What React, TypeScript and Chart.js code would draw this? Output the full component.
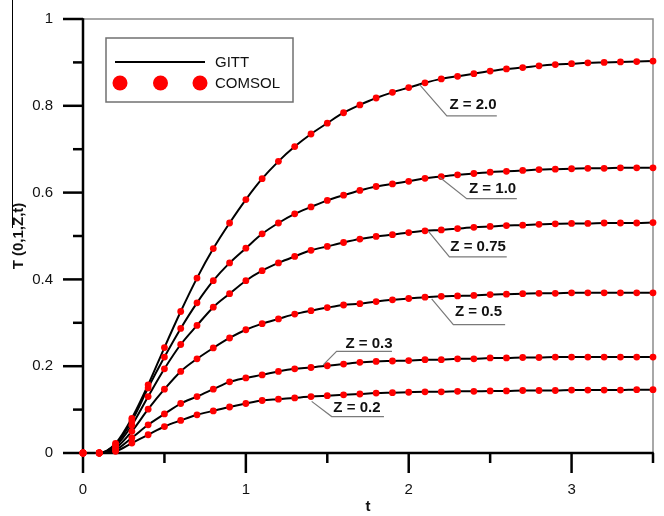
import React, { useEffect, useRef } from 'react';
import { Chart, registerables } from 'chart.js';

Chart.register(...registerables);

// ---------- data ----------
const tValues = [
  0, 0.1, 0.2, 0.3, 0.4, 0.5, 0.6, 0.7, 0.8, 0.9,
  1.0, 1.1, 1.2, 1.3, 1.4, 1.5, 1.6, 1.7, 1.8, 1.9,
  2.0, 2.1, 2.2, 2.3, 2.4, 2.5, 2.6, 2.7, 2.8, 2.9,
  3.0, 3.1, 3.2, 3.3, 3.4, 3.5,
];

const z20 = [
  0, 0, 0.022, 0.080, 0.157, 0.243, 0.326, 0.403, 0.471, 0.530,
  0.584, 0.632, 0.672, 0.706, 0.735, 0.760, 0.784, 0.802, 0.818, 0.831,
  0.842, 0.853, 0.862, 0.868, 0.874, 0.880, 0.885, 0.888, 0.892, 0.895,
  0.897, 0.899, 0.900, 0.901, 0.902, 0.903,
];
const z10 = [
  0, 0, 0.020, 0.074, 0.150, 0.221, 0.287, 0.346, 0.397, 0.438,
  0.472, 0.505, 0.530, 0.551, 0.567, 0.582, 0.594, 0.605, 0.614, 0.620,
  0.626, 0.633, 0.637, 0.641, 0.644, 0.647, 0.649, 0.651, 0.653, 0.654,
  0.655, 0.656, 0.656, 0.657, 0.657, 0.657,
];
const z075 = [
  0, 0, 0.016, 0.064, 0.130, 0.194, 0.250, 0.294, 0.336, 0.367,
  0.397, 0.420, 0.438, 0.453, 0.467, 0.476, 0.485, 0.493, 0.499, 0.503,
  0.508, 0.512, 0.514, 0.517, 0.520, 0.522, 0.524, 0.525, 0.527, 0.528,
  0.529, 0.529, 0.530, 0.530, 0.530, 0.531,
];
const z05 = [
  0, 0, 0.011, 0.050, 0.101, 0.147, 0.188, 0.217, 0.242, 0.265,
  0.284, 0.298, 0.309, 0.320, 0.328, 0.335, 0.341, 0.344, 0.349, 0.353,
  0.356, 0.359, 0.361, 0.362, 0.363, 0.365, 0.366, 0.367, 0.368, 0.368,
  0.369, 0.369, 0.369, 0.369, 0.369, 0.369,
];
const z03 = [
  0, 0, 0.007, 0.035, 0.065, 0.090, 0.114, 0.130, 0.147, 0.164,
  0.173, 0.180, 0.188, 0.194, 0.197, 0.201, 0.205, 0.209, 0.211, 0.212,
  0.213, 0.215, 0.215, 0.217, 0.217, 0.219, 0.219, 0.220, 0.220, 0.221,
  0.221, 0.221, 0.221, 0.221, 0.221, 0.221,
];
const z02 = [
  0, 0, 0.004, 0.023, 0.042, 0.061, 0.075, 0.088, 0.097, 0.106,
  0.114, 0.121, 0.124, 0.127, 0.130, 0.132, 0.134, 0.136, 0.138, 0.139,
  0.140, 0.141, 0.141, 0.142, 0.142, 0.143, 0.143, 0.144, 0.144, 0.144,
  0.145, 0.145, 0.145, 0.145, 0.146, 0.146,
];

const seriesValues = [z20, z10, z075, z05, z03, z02];
const seriesLabels = ['Z = 2.0', 'Z = 1.0', 'Z = 0.75', 'Z = 0.5', 'Z = 0.3', 'Z = 0.2'];
const legendLabels = ['GITT', 'COMSOL'];

const xTickValues = [0, 1, 2, 3];
const xTickLabels = ['0', '1', '2', '3'];
const xMinorTicks = [0.5, 1.5, 2.5, 3.5];
const yTickValues = [0, 0.2, 0.4, 0.6, 0.8, 1];
const yTickLabels = ['0', '0.2', '0.4', '0.6', '0.8', '1'];
const yMinorTicks = [0.1, 0.3, 0.5, 0.7, 0.9];

const xTitle = 't';
const yTitle = 'T (0,1,Z,t)';

// ---------- layout of call-out labels (data coordinates) ----------
// [start t, start v, elbow t, elbow v, underline end t, text centre t, text centre v]
const calloutLayout = [
  [2.067, 0.849, 2.234, 0.777, 2.541, 2.395, 0.803],
  [2.188, 0.636, 2.356, 0.586, 2.664, 2.515, 0.608],
  [2.120, 0.511, 2.250, 0.452, 2.602, 2.426, 0.476],
  [2.141, 0.355, 2.274, 0.296, 2.592, 2.429, 0.325],
  [1.475, 0.203, 1.557, 0.234, 1.897, 1.756, 0.252],
  [1.404, 0.119, 1.527, 0.084, 1.848, 1.682, 0.104],
];

const FONT = '"Liberation Sans", Arial, Helvetica, sans-serif';
const RED = '#ff0000';

const framePlugin = {
  id: 'frameTicks',
  beforeDatasetsDraw(chart: any) {
    const { ctx, chartArea: a, scales } = chart;
    const x = scales.x;
    const y = scales.y;
    ctx.save();
    ctx.lineCap = 'butt';
    // grey top & right frame
    ctx.strokeStyle = '#8c8c8c';
    ctx.lineWidth = 1.5;
    ctx.beginPath();
    ctx.moveTo(a.left, a.top);
    ctx.lineTo(a.right, a.top);
    ctx.lineTo(a.right, a.bottom);
    ctx.stroke();
    // black axes
    ctx.strokeStyle = '#000';
    ctx.lineWidth = 2.5;
    ctx.beginPath();
    ctx.moveTo(a.left, a.top - 0.75);
    ctx.lineTo(a.left, a.bottom);
    ctx.lineTo(a.right + 0.75, a.bottom);
    ctx.stroke();
    const seg = (x1: number, y1: number, x2: number, y2: number) => {
      ctx.beginPath();
      ctx.moveTo(x1, y1);
      ctx.lineTo(x2, y2);
      ctx.stroke();
    };
    xTickValues.forEach((v) => {
      const px = x.getPixelForValue(v);
      seg(px, a.bottom, px, a.bottom + 20);
    });
    xMinorTicks.forEach((v) => {
      const px = x.getPixelForValue(v);
      seg(px, a.bottom, px, a.bottom + 10);
    });
    yTickValues.forEach((v) => {
      const py = y.getPixelForValue(v);
      seg(a.left - 20, py, a.left, py);
    });
    yMinorTicks.forEach((v) => {
      const py = y.getPixelForValue(v);
      seg(a.left - 10, py, a.left, py);
    });
    ctx.restore();
  },
  afterDraw(chart: any) {
    const { ctx, scales } = chart;
    const x = scales.x;
    const y = scales.y;
    ctx.save();

    // overline of the y title
    ctx.strokeStyle = '#000';
    ctx.lineWidth = 1;
    ctx.beginPath();
    ctx.moveTo(12.5, 0);
    ctx.lineTo(12.5, 228);
    ctx.stroke();

    // call-outs
    ctx.font = `bold 15px ${FONT}`;
    ctx.textAlign = 'center';
    ctx.textBaseline = 'middle';
    calloutLayout.forEach((c, i) => {
      const sx = x.getPixelForValue(c[0]);
      const sy = y.getPixelForValue(c[1]);
      const ex = x.getPixelForValue(c[2]);
      const ey = y.getPixelForValue(c[3]);
      const ux = x.getPixelForValue(c[4]);
      ctx.strokeStyle = '#7a7a7a';
      ctx.lineWidth = 1.2;
      ctx.beginPath();
      ctx.moveTo(sx, sy);
      ctx.lineTo(ex, ey);
      ctx.lineTo(ux, ey);
      ctx.stroke();
      ctx.fillStyle = '#111';
      ctx.fillText(seriesLabels[i], x.getPixelForValue(c[5]), y.getPixelForValue(c[6]));
    });

    // legend box
    const bx = 106, by = 38, bw = 187, bh = 64;
    ctx.strokeStyle = '#707070';
    ctx.lineWidth = 1.5;
    ctx.strokeRect(bx, by, bw, bh);
    ctx.strokeStyle = '#000';
    ctx.lineWidth = 2;
    ctx.beginPath();
    ctx.moveTo(115, 62);
    ctx.lineTo(205, 62);
    ctx.stroke();
    ctx.fillStyle = RED;
    [120, 160.5, 200].forEach((cx) => {
      ctx.beginPath();
      ctx.arc(cx, 83, 7.5, 0, Math.PI * 2);
      ctx.fill();
    });
    ctx.fillStyle = '#111';
    ctx.font = `15px ${FONT}`;
    ctx.textAlign = 'left';
    ctx.fillText(legendLabels[0], 215, 63);
    ctx.fillText(legendLabels[1], 215, 84);
    ctx.restore();
  },
};

export default function App() {
  const canvasRef = useRef<HTMLCanvasElement | null>(null);

  useEffect(() => {
    document.body.style.margin = '0';
    const canvas = canvasRef.current;
    if (!canvas) return;

    const lineSets = seriesValues.map((vals, i) => ({
      label: `GITT ${seriesLabels[i]}`,
      data: tValues.map((t, k) => ({ x: t, y: vals[k] })),
      borderColor: '#000',
      borderWidth: 2,
      pointRadius: 0,
      cubicInterpolationMode: 'monotone' as const,
      fill: false,
      clip: false as any,
      order: 2,
    }));
    const pointSets = seriesValues.map((vals, i) => ({
      label: `COMSOL ${seriesLabels[i]}`,
      data: tValues.map((t, k) => ({ x: t, y: vals[k] })),
      showLine: false,
      pointRadius: 3.4,
      pointBackgroundColor: RED,
      pointBorderWidth: 0,
      borderColor: RED,
      clip: false as any,
      order: 1,
    }));

    const chart = new Chart(canvas, {
      type: 'line',
      data: { datasets: [...lineSets, ...pointSets] as any },
      options: {
        responsive: false,
        devicePixelRatio: 1,
        animation: false,
        layout: { padding: { top: 19, right: 11, left: 0, bottom: 0 } },
        plugins: {
          legend: { display: false },
          tooltip: { enabled: false },
        },
        scales: {
          x: {
            type: 'linear',
            min: 0,
            max: 3.5,
            grid: { display: false, drawTicks: true, tickLength: 28 },
            border: { display: false },
            afterBuildTicks: (s: any) => {
              s.ticks = xTickValues.map((v) => ({ value: v }));
            },
            afterFit: (s: any) => {
              s.height = 63;
            },
            ticks: {
              padding: 0,
              color: '#111',
              font: { family: FONT, size: 15 },
              maxRotation: 0,
              callback: (v: any) => {
                const i = xTickValues.indexOf(Number(v));
                return i >= 0 ? xTickLabels[i] : '';
              },
            },
            title: {
              display: true,
              text: xTitle,
              color: '#111',
              font: { family: FONT, size: 15, weight: 'bold' },
              padding: { top: 0, bottom: 0 },
            },
          },
          y: {
            type: 'linear',
            min: 0,
            max: 1,
            grid: { display: false, drawTicks: true, tickLength: 30 },
            border: { display: false },
            afterBuildTicks: (s: any) => {
              s.ticks = yTickValues.map((v) => ({ value: v }));
            },
            afterFit: (s: any) => {
              s.width = 83;
            },
            ticks: {
              padding: 0,
              color: '#111',
              font: { family: FONT, size: 15 },
              callback: (v: any) => {
                const i = yTickValues.findIndex((w) => Math.abs(w - Number(v)) < 1e-9);
                return i >= 0 ? yTickLabels[i] : '';
              },
            },
            title: {
              display: true,
              text: yTitle,
              color: '#111',
              font: { family: FONT, size: 15, weight: 'bold' },
              padding: { top: 10, bottom: 0 },
            },
          },
        },
      },
      plugins: [framePlugin],
    });

    return () => chart.destroy();
  }, []);

  return (
    <div style={{ width: 664, height: 516, background: '#fff' }}>
      <canvas ref={canvasRef} width={664} height={516} style={{ display: 'block' }} />
    </div>
  );
}
